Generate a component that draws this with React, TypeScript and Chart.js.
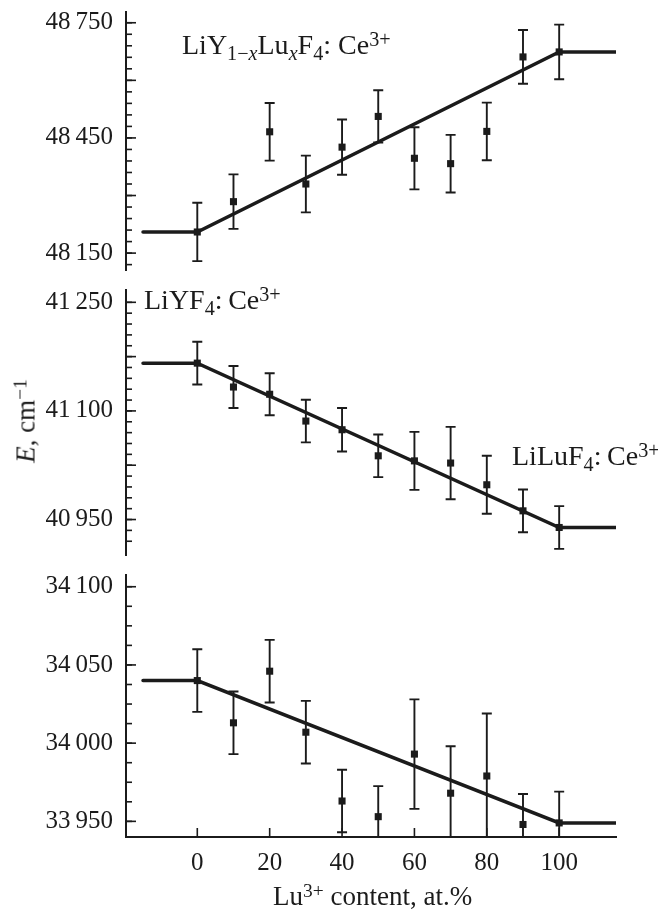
import React, { useEffect, useRef } from 'react';
import { Chart, registerables } from 'chart.js';

Chart.register(...registerables);

const INK = '#1b1b1b';
const FONT = "'Liberation Serif', 'Times New Roman', serif";

// ---- data ----
const CONTENT = [0, 10, 20, 30, 40, 50, 60, 70, 80, 90, 100];
const FIT_X = [-15, 0, 100, 116];
const X_TICKS = [0, 20, 40, 60, 80, 100];

const TOP_E = [48205, 48284, 48466, 48330, 48426, 48506, 48397, 48383, 48467, 48661, 48674];
const TOP_ERR = [76, 71, 75, 74, 72, 68, 81, 75, 75, 70, 71];
const TOP_FIT = [48205, 48205, 48674, 48674];
const TOP_LABELED = [48150, 48450, 48750];
const TOP_MEDIUM = [48300, 48600];

const MID_E = [41166, 41133, 41123, 41086, 41074, 41038, 41031, 41028, 40998, 40962, 40939];
const MID_ERR = [29.5, 29, 29, 29.5, 30, 29.5, 40, 50, 40, 29.5, 29.5];
const MID_FIT = [41166, 41166, 40939, 40939];
const MID_LABELED = [40950, 41100, 41250];
const MID_MEDIUM = [41025, 41175];

const BOT_E = [34040, 34013, 34046, 34007, 33963, 33953, 33993, 33968, 33979, 33948, 33949];
const BOT_ERR = [20, 20, 20, 20, 20, 19.5, 35, 30, 40, 19.5, 20];
const BOT_FIT = [34040, 34040, 33949, 33949];
const BOT_LABELED = [33950, 34000, 34050, 34100];
const BOT_MEDIUM: number[] = [];

type Panel = {
  values: number[];
  errors: number[];
  fit: number[];
  labeled: number[];
  medium: number[];
  minorFrom: number;
  minorTo: number;
  minorStep: number;
  min: number;
  max: number;
  showX: boolean;
  height: number;
  padTop: number;
  padBottom: number;
};

const PANELS: { top: number; p: Panel }[] = [
  {
    top: 0,
    p: {
      values: TOP_E, errors: TOP_ERR, fit: TOP_FIT, labeled: TOP_LABELED, medium: TOP_MEDIUM,
      minorFrom: 48120, minorTo: 48750, minorStep: 30,
      min: 48106, max: 48778, showX: false, height: 290, padTop: 12, padBottom: 20,
    },
  },
  {
    top: 280,
    p: {
      values: MID_E, errors: MID_ERR, fit: MID_FIT, labeled: MID_LABELED, medium: MID_MEDIUM,
      minorFrom: 40920, minorTo: 41250, minorStep: 15,
      min: 40901, max: 41267, showX: false, height: 290, padTop: 10, padBottom: 15,
    },
  },
  {
    top: 565,
    p: {
      values: BOT_E, errors: BOT_ERR, fit: BOT_FIT, labeled: BOT_LABELED, medium: BOT_MEDIUM,
      minorFrom: 33950, minorTo: 34100, minorStep: 12.5,
      min: 33940, max: 34107.5, showX: true, height: 346, padTop: 10, padBottom: 0,
    },
  },
];

function fmt(v: number): string {
  const s = String(Math.round(v));
  return s.length > 3 ? s.slice(0, -3) + '\u2009' + s.slice(-3) : s;
}

function makeDecor(p: Panel) {
  return {
    id: 'decor',
    beforeDatasetsDraw(chart: any) {
      const { ctx, chartArea: ca } = chart;
      const xs = chart.scales.x;
      const ys = chart.scales.y;
      ctx.save();
      ctx.beginPath();
      ctx.rect(ca.left, ca.top, ca.right - ca.left, ca.bottom - ca.top);
      ctx.clip();
      ctx.strokeStyle = INK;
      ctx.lineWidth = 1.9;
      CONTENT.forEach((c, i) => {
        const x = xs.getPixelForValue(c);
        const yt = ys.getPixelForValue(p.values[i] + p.errors[i]);
        const yb = ys.getPixelForValue(p.values[i] - p.errors[i]);
        ctx.beginPath();
        ctx.moveTo(x, yt);
        ctx.lineTo(x, yb);
        ctx.moveTo(x - 5, yt);
        ctx.lineTo(x + 5, yt);
        ctx.moveTo(x - 5, yb);
        ctx.lineTo(x + 5, yb);
        ctx.stroke();
      });
      ctx.restore();
    },
    afterDraw(chart: any) {
      const { ctx, chartArea: ca } = chart;
      const xs = chart.scales.x;
      const ys = chart.scales.y;
      ctx.save();
      ctx.strokeStyle = INK;
      ctx.lineWidth = 1.6;
      const tick = (v: number, len: number) => {
        const y = ys.getPixelForValue(v);
        if (y < ca.top - 0.5 || y > ca.bottom + 0.5) return;
        ctx.beginPath();
        ctx.moveTo(ca.left, y);
        ctx.lineTo(ca.left + len, y);
        ctx.stroke();
      };
      for (let v = p.minorFrom; v <= p.minorTo + 1e-6; v += p.minorStep) tick(v, 6);
      p.medium.forEach((v) => tick(v, 10));
      p.labeled.forEach((v) => tick(v, 10));
      if (p.showX) {
        X_TICKS.forEach((v) => {
          const x = xs.getPixelForValue(v);
          ctx.beginPath();
          ctx.moveTo(x, ca.bottom);
          ctx.lineTo(x, ca.bottom - 9);
          ctx.stroke();
        });
      }
      ctx.restore();
    },
  };
}

function PanelChart({ p, top }: { p: Panel; top: number }) {
  const ref = useRef<HTMLCanvasElement | null>(null);
  useEffect(() => {
    if (!ref.current) return;
    const chart = new Chart(ref.current, {
      type: 'scatter',
      data: {
        datasets: [
          {
            data: CONTENT.map((x, i) => ({ x, y: p.values[i] })),
            pointStyle: 'rect',
            pointRadius: 5,
            pointHoverRadius: 5,
            backgroundColor: INK,
            borderWidth: 0,
          },
          {
            data: FIT_X.map((x, i) => ({ x, y: p.fit[i] })),
            showLine: true,
            borderColor: INK,
            borderWidth: 3.5,
            borderCapStyle: 'round',
            pointRadius: 0,
            pointHoverRadius: 0,
          } as any,
        ],
      },
      options: {
        animation: false,
        responsive: false,
        devicePixelRatio: 1,
        events: [],
        layout: { padding: { left: 0, right: 42, top: p.padTop, bottom: p.padBottom } },
        plugins: { legend: { display: false }, tooltip: { enabled: false } },
        scales: {
          x: {
            type: 'linear',
            min: -19.7,
            max: 115.7,
            display: p.showX,
            border: { display: true, color: INK, width: 2 },
            grid: { display: false },
            ticks: {
              color: INK,
              font: { family: FONT, size: 25 },
              padding: 3,
              maxRotation: 0,
              autoSkip: false,
            },
            afterBuildTicks: (s: any) => {
              s.ticks = X_TICKS.map((v) => ({ value: v }));
            },
            afterFit: (s: any) => {
              s.height = p.showX ? 74 : 0;
              s.paddingLeft = 0;
              s.paddingRight = 0;
              s.paddingTop = 0;
              s.paddingBottom = 0;
            },
          },
          y: {
            type: 'linear',
            min: p.min,
            max: p.max,
            border: { display: true, color: INK, width: 2 },
            grid: { display: false },
            ticks: {
              color: INK,
              font: { family: FONT, size: 25 },
              padding: 5,
              autoSkip: false,
              callback: (v: any) => fmt(Number(v)),
            },
            afterBuildTicks: (s: any) => {
              s.ticks = p.labeled.map((v) => ({ value: v }));
            },
            afterFit: (s: any) => {
              s.width = 126;
              s.paddingLeft = 0;
              s.paddingRight = 0;
              s.paddingTop = 0;
              s.paddingBottom = 0;
            },
          },
        },
      },
      plugins: [makeDecor(p)],
    });
    return () => chart.destroy();
  }, [p]);
  return (
    <canvas
      ref={ref}
      width={658}
      height={p.height}
      style={{ position: 'absolute', left: 0, top, width: 658, height: p.height, display: 'block' }}
    />
  );
}

const sub: React.CSSProperties = { fontSize: '0.72em', verticalAlign: '-0.28em', lineHeight: 0 };
const sup: React.CSSProperties = { fontSize: '0.72em', verticalAlign: '0.42em', lineHeight: 0 };

function Label({ left, baseline, size, children }: { left: number; baseline: number; size: number; children: React.ReactNode }) {
  return (
    <div
      style={{
        position: 'absolute',
        left,
        top: baseline - 0.8375 * size,
        fontFamily: FONT,
        fontSize: size,
        lineHeight: `${size}px`,
        color: INK,
        whiteSpace: 'nowrap',
      }}
    >
      {children}
    </div>
  );
}

export default function App() {
  return (
    <div style={{ position: 'absolute', left: 0, top: 0, width: 658, height: 911, background: '#fff', overflow: 'hidden' }}>
      {PANELS.map((it, i) => (
        <PanelChart key={i} p={it.p} top={it.top} />
      ))}
      <Label left={182} baseline={54} size={28}>
        LiY<span style={sub}>1−<i>x</i></span>Lu<span style={sub}><i>x</i></span>F<span style={sub}>4</span>: Ce<span style={sup}>3+</span>
      </Label>
      <Label left={144} baseline={309} size={28}>
        LiYF<span style={sub}>4</span>:{'\u2009'}Ce<span style={sup}>3+</span>
      </Label>
      <Label left={512} baseline={465} size={28}>
        LiLuF<span style={sub}>4</span>:{'\u2009'}Ce<span style={sup}>3+</span>
      </Label>
      <Label left={273} baseline={906} size={27}>
        Lu<span style={sup}>3+</span> content, at.%
      </Label>
      <div
        style={{
          position: 'absolute',
          left: 26,
          top: 421,
          transform: 'translate(-50%, -50%) rotate(-90deg)',
          fontFamily: FONT,
          fontSize: 27,
          lineHeight: '27px',
          color: INK,
          whiteSpace: 'nowrap',
        }}
      >
        <i>E</i>, cm<span style={sup}>−1</span>
      </div>
    </div>
  );
}
